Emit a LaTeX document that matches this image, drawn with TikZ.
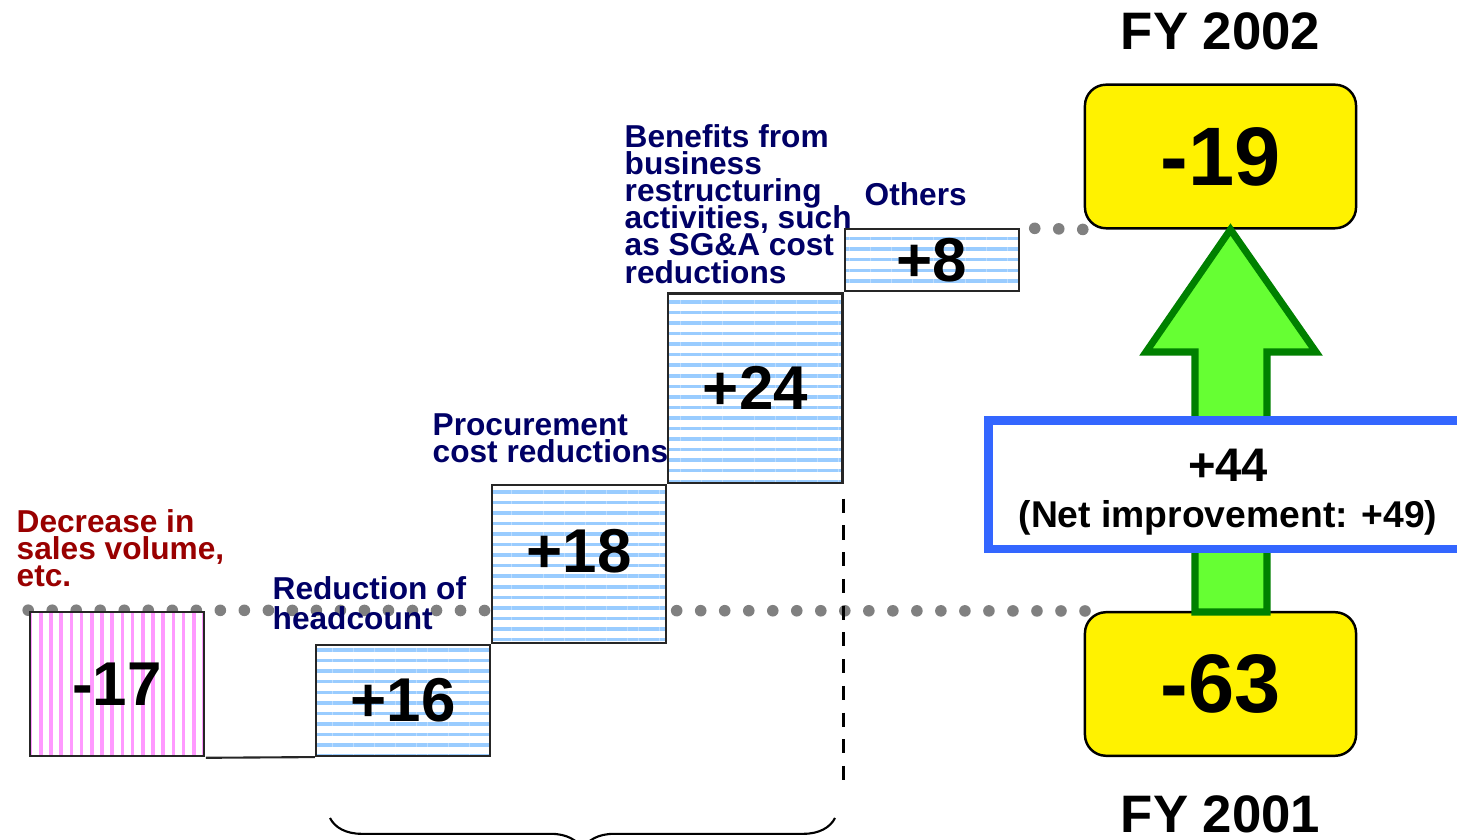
\documentclass[tikz,border=0pt]{standalone}
\usepackage{fontspec}
\setmainfont{Liberation Sans}
\usetikzlibrary{positioning,calc,patterns.meta,decorations.pathreplacing}
\definecolor{navy}{HTML}{000066}
\definecolor{lossred}{HTML}{990000}
\definecolor{hatchblue}{HTML}{99CCFF}
\definecolor{hatchpink}{HTML}{FF99FF}
\definecolor{dotgray}{HTML}{808080}
\definecolor{upgreen}{HTML}{66FF33}
\definecolor{edgegreen}{HTML}{008000}
\definecolor{netblue}{HTML}{3366FF}
\newcommand{\notefont}{\fontsize{9}{7.7}\selectfont\bfseries\lineskiplimit=-20pt\relax}

\begin{document}
\begin{tikzpicture}[x=0.01cm, y=-0.01cm,
  gainbar/.style={rectangle, draw=black!85, line width=0.6pt, preaction={fill=white},
    pattern={Lines[angle=0, distance=3pt, line width=1pt]}, pattern color=hatchblue,
    minimum width=1.74cm, minimum height=#1, inner sep=0pt, font=\fontsize{17.6}{20}\selectfont\bfseries},
  lossbar/.style={gainbar=#1, pattern={Lines[angle=90, distance=2.9pt, line width=1pt]}, pattern color=hatchpink},
  yrbox/.style={rectangle, draw, line width=0.7pt, fill=yellow, rounded corners=6pt, minimum width=2.71cm,
    minimum height=1.435cm, font=\fontsize{23.6}{26}\selectfont\bfseries},
  fylabel/.style={inner sep=0pt, font=\fontsize{15}{18}\selectfont\bfseries},
  note/.style={anchor=north west, align=left, inner sep=0pt, text=navy, font=\notefont},
  dotline/.style={dotgray, line width=3.3pt, line cap=round, dash pattern=on 0pt off 6.83pt},
  cutline/.style={black, line width=1.1pt, dash pattern=on 4pt off 3.6pt},
  bigarrow/.style={fill=upgreen, draw=edgegreen, line width=2pt, line join=miter},
  netbox/.style={rectangle, draw=netblue, line width=2.4pt, fill=white, minimum width=4.79cm, minimum height=1.285cm,
    align=center, inner sep=0pt, font=\fontsize{10.6}{13.1}\selectfont\bfseries}
]
  \useasboundingbox (0,0) rectangle (1457,840);

  % year totals
  \node[yrbox] (fy02) at (1220.5,156.5) {-19};
  \node[yrbox] (fy01) at (1220.5,684) {-63};

  % waterfall bars (placed first for the level lines)
  \node[lossbar=1.44cm] (m17) at (117,684) {};
  \node[gainbar=1.11cm] (p16) at (403,700.5) {};
  \node[gainbar=1.58cm, anchor=south west] (p18) at (p16.north east) {};
  \node[gainbar=1.89cm, anchor=south west] (p24) at (p18.north east) {};
  \node[gainbar=0.62cm, anchor=south west] (p8) at (p24.north east) {};

  % dotted level lines
  \draw[dotline] (m17.north west) -- ($(fy01.north west)+(3,0)$);
  \draw[dotline] ($(p8.north east)+(15,0)$) -- ($(fy02.south west)+(3,0)$);

  % bars again, over the dots
  \node[lossbar=1.44cm] at (m17) {-17};
  \node[gainbar=1.11cm] at (p16) {+16};
  \node[gainbar=1.58cm] at (p18) {\rule[-0.26cm]{0pt}{0.26cm}+18};
  \node[gainbar=1.89cm] at (p24) {+24};
  \node[gainbar=0.62cm] at (p8) {+8};

  \draw[black!85, line width=0.6pt] (m17.south east) -- (p16.south west);
  \draw[cutline] ($(p24.south east)+(0,15)$) -- ++(0,285);
  \draw[line width=0.6pt, decorate, decoration={brace, amplitude=9pt}] (835,818) -- (330,818);

  % labels
  \node[note, text=lossred] (l17) at (16,509) {Decrease in\\sales volume,\\etc.};
  \node[note] (l16) at (272,576) {Reduction of\\[0.8pt]headcount};
  \node[note] (l18) at (432,413) {Procurement\\cost reductions};
  \node[note] (l24) at (624,124) {Benefits from\\business\\restructuring\\activities, such\\as SG\&A cost\\reductions};
  \node[note] (l8) at (864,182) {Others};

  % improvement arrow
  \draw[bigarrow] (1195,612) -- (1195,352) -- (1146,352) -- ($(fy02.south)+(10,0)$) -- (1316,352)
    -- (1267,352) -- (1267,612) -- cycle;
  \node[netbox] (net) at (1228,484.75) {\rule{0pt}{0.48cm}{\fontsize{13.4}{16}\selectfont +44}\\(Net improvement: +49)};

  \node[fylabel, above=0.33cm of fy02] (t02) {FY 2002};
  \node[fylabel, below=0.38cm of fy01] (t01) {FY 2001};
\end{tikzpicture}
\end{document}
